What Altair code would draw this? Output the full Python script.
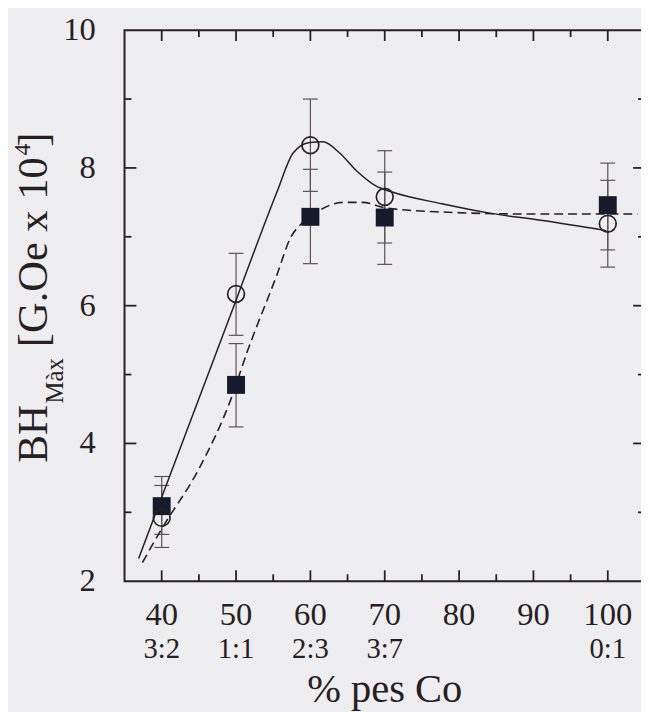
import altair as alt
import pandas as pd

# ---------------- data ----------------
x_pos = [40, 50, 60, 70, 100]
ratio_labels = ["3:2", "1:1", "2:3", "3:7", "0:1"]

circ_y = [2.92, 6.17, 8.33, 7.58, 7.19]
circ_lo = [2.49, 5.57, 7.66, 6.91, 6.56]
circ_hi = [3.39, 6.76, 9.00, 8.25, 7.82]

sq_y = [3.09, 4.85, 7.29, 7.28, 7.46]
sq_lo = [2.68, 4.24, 6.61, 6.60, 6.81]
sq_hi = [3.52, 5.45, 7.98, 7.94, 8.07]

# solid curve (through circles), traced
solid_x = [36.9, 40, 45, 50, 53, 55.5, 57.7, 59.9, 61.7, 63.9, 66.2, 68.8, 71.0, 77.7, 84.3, 91.0, 99.8]
solid_y = [2.33, 3.22, 4.65, 6.08, 6.95, 7.65, 8.22, 8.37, 8.38, 8.22, 7.96, 7.74, 7.65, 7.48, 7.34, 7.24, 7.09]

# dashed curve (through squares), traced
dash_x = [37.4, 40, 45, 49.3, 51.5, 55.5, 57.3, 59.1, 61.3, 64.4, 67.0, 70.1, 77.7, 90, 104]
dash_y = [2.27, 2.76, 3.63, 4.64, 5.33, 6.45, 6.98, 7.22, 7.39, 7.50, 7.50, 7.42, 7.36, 7.33, 7.33]

x_label_values = [40, 50, 60, 70, 80, 90, 100]
y_label_values = [2, 4, 6, 8, 10]
x_major_ticks = [40, 50, 60, 70, 80, 90, 100]
x_minor_ticks = [45, 55, 65, 75, 85, 95]
y_major_ticks = [4, 6, 8]
y_minor_ticks = [3, 5, 7, 9]

x_title = "% pes Co"
y_title_parts = ["BH", "Màx", "[G.Oe x 10", "4", "]"]

# ---------------- styling ----------------
SERIF = "Liberation Serif"
INK = "#262022"
ERR = "#5e5050"
SQ = "#161a2a"
BG = "#eeeef1"
W, H = 527, 558

xs = alt.Scale(domain=[35, 105], nice=False, zero=False)
ys = alt.Scale(domain=[2, 10], nice=False, zero=False)

X = lambda f="x": alt.X(f"{f}:Q", scale=xs, axis=None)
Y = lambda f="y": alt.Y(f"{f}:Q", scale=ys, axis=None)

circ_df = pd.DataFrame({"x": x_pos, "y": circ_y, "lo": circ_lo, "hi": circ_hi})
sq_df = pd.DataFrame({"x": x_pos, "y": sq_y, "lo": sq_lo, "hi": sq_hi})
err_df = pd.concat([circ_df, sq_df], ignore_index=True)
cap_df = pd.DataFrame({"x": x_pos * 4, "v": circ_lo + circ_hi + sq_lo + sq_hi})
solid_df = pd.DataFrame({"x": solid_x, "y": solid_y})
dash_df = pd.DataFrame({"x": dash_x, "y": dash_y})
ratio_df = pd.DataFrame({"x": x_pos, "lab": ratio_labels})
xlab_df = pd.DataFrame({"x": x_label_values})
ylab_df = pd.DataFrame({"y": y_label_values})

# inward ticks on all four sides
def xticks(vals, length, top):
    d = pd.DataFrame({"x": vals})
    y0, y1 = (0, length) if top else (H, H - length)
    return alt.Chart(d).mark_rule(color=INK, strokeWidth=1.8).encode(
        x=X(), y=alt.value(y0), y2=alt.value(y1))

def yticks(vals, length, right):
    d = pd.DataFrame({"y": vals})
    x0, x1 = (W, W - length) if right else (0, length)
    return alt.Chart(d).mark_rule(color=INK, strokeWidth=1.8).encode(
        y=Y(), x=alt.value(x0), x2=alt.value(x1))

ticks = [
    xticks(x_major_ticks, 11, False), xticks(x_minor_ticks, 7, False),
    xticks(x_major_ticks, 11, True), xticks(x_minor_ticks, 7, True),
    yticks(y_major_ticks, 12, False), yticks(y_minor_ticks, 7, False),
    yticks(y_major_ticks, 12, True), yticks(y_minor_ticks, 7, True),
]

# tick labels
xlabels = alt.Chart(xlab_df).mark_text(font=SERIF, fontSize=33, color=INK,
                                       baseline="alphabetic", align="center").encode(
    x=X(), y=alt.value(602), text=alt.Text("x:Q", format="d"))
ylabels = alt.Chart(ylab_df).mark_text(font=SERIF, fontSize=33, color=INK,
                                       baseline="middle", align="right").encode(
    y=Y(), x=alt.value(-29), text=alt.Text("y:Q", format="d"))
ratios = alt.Chart(ratio_df).mark_text(font=SERIF, fontSize=29, color=INK,
                                       baseline="alphabetic", align="center").encode(
    x=X(), y=alt.value(636), text="lab:N")

err_bars = alt.Chart(err_df).mark_rule(color=ERR, strokeWidth=1.2).encode(
    x=X(), y=Y("lo"), y2="hi:Q")
err_caps = alt.Chart(cap_df).mark_tick(orient="horizontal", size=15, thickness=1.2,
                                       color=ERR, opacity=1).encode(x=X(), y=Y("v"))

solid = alt.Chart(solid_df).mark_line(interpolate="monotone", color=INK,
                                      strokeWidth=1.5).encode(x=X(), y=Y())
dashed = alt.Chart(dash_df).mark_line(interpolate="monotone", color=INK,
                                      strokeWidth=1.6, strokeDash=[9, 5]).encode(x=X(), y=Y())

squares = alt.Chart(sq_df).mark_square(size=330, color=SQ, opacity=1,
                                       filled=True).encode(x=X(), y=Y())
circles = alt.Chart(circ_df).mark_point(shape="circle", filled=False, size=290,
                                        strokeWidth=1.7, color=INK,
                                        opacity=1).encode(x=X(), y=Y())

# axis titles
one = pd.DataFrame({"a": [0]})
xtitle = alt.Chart(one).mark_text(text=x_title, font=SERIF, fontSize=41, color=INK,
                                  baseline="alphabetic", align="center").encode(
    x=alt.value(W / 2), y=alt.value(680))

def ypart(txt, size, bx, by):
    return alt.Chart(one).mark_text(text=txt, angle=270, align="left",
                                    baseline="alphabetic", font=SERIF,
                                    fontSize=size, color=INK).encode(
        x=alt.value(bx), y=alt.value(by))

ytitle = [
    ypart(y_title_parts[0], 42, -78.7, 438),
    ypart(y_title_parts[1], 25, -62.7, 378),
    ypart(y_title_parts[2], 43, -78.7, 321),
    ypart(y_title_parts[3], 24, -95.7, 127),
    ypart(y_title_parts[4], 43, -78.7, 118),
]

chart = alt.layer(
    *ticks, err_bars, err_caps, solid, dashed, squares, circles,
    xlabels, ylabels, ratios, xtitle, *ytitle
).properties(
    width=W, height=H,
    autosize=alt.AutoSizeParams(type="none"),
    padding={"left": 118, "top": 18, "right": -4, "bottom": 128},
).configure(background=BG).configure_view(stroke=INK, strokeWidth=2)

chart.save("out.html", embed_options={"renderer": "svg", "actions": False})
